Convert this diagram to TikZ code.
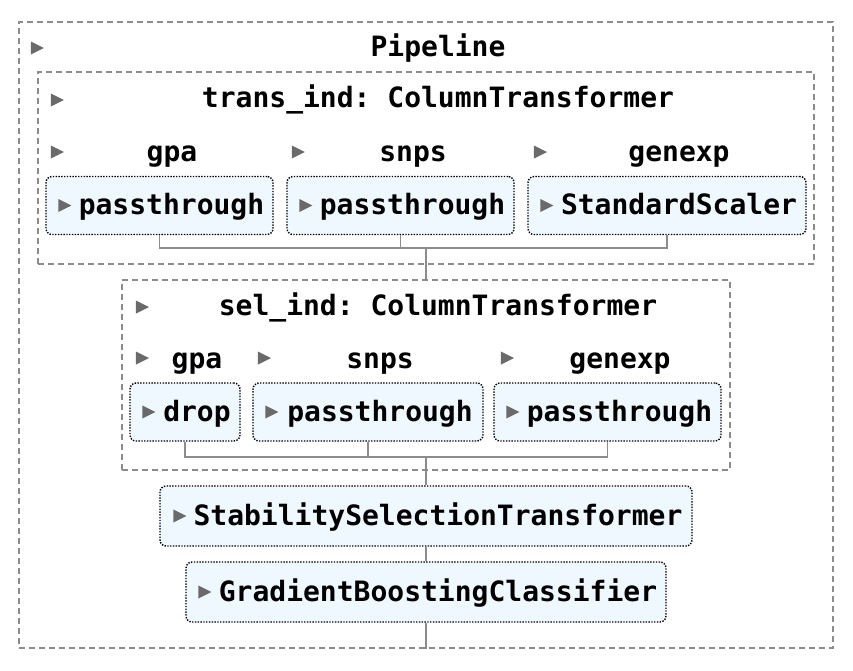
\documentclass[tikz,border=0pt]{standalone}
\usepackage{fontspec}
\setmonofont{DejaVu Sans Mono}
\usetikzlibrary{positioning,shapes.geometric}

\definecolor{boxfill}{HTML}{F0F8FF}
\definecolor{framegray}{HTML}{8C8C8C}
\definecolor{trigray}{HTML}{6A6A6A}

\tikzset{
  frame/.style={draw=framegray, line width=1.6pt, dash pattern=on 6pt off 4pt, inner sep=0pt},
  estim/.style={draw=black, fill=boxfill, line width=1.4pt, dash pattern=on 1.4pt off 1.4pt,
                rounded corners=6pt, inner sep=0pt, minimum height=58pt,
                text height=24pt, text depth=6pt},
  lab/.style={inner sep=0pt, text height=20pt, text depth=6pt},
  tri/.style={isosceles triangle, isosceles triangle stretches, shape border rotate=0,
              fill=trigray, inner sep=0pt, minimum width=13pt, minimum height=13pt},
  link/.style={draw=framegray, line width=1.6pt}
}

\begin{document}
\begin{tikzpicture}[x=1pt,y=-1pt,
                    font=\ttfamily\bfseries\fontsize{28}{34}\selectfont]
\useasboundingbox (0,0) rectangle (853,670);

\begin{scope}[every node/.style={frame}]
    \node (pipe) at (426,335) [minimum width=814pt, minimum height=626pt] {};
    \node (trans) at (426,168) [minimum width=776pt, minimum height=192pt] {};
    \node (sel) at (426,375) [minimum width=608pt, minimum height=190pt] {};
\end{scope}

\begin{scope}[every node/.style={lab}]
    \node (pipetitle) at (438,49.5) {Pipeline};
    \node (transtitle) at (438,100.5) {trans\_ind: ColumnTransformer};
    \node (tgpalab) at (172,154.7) {gpa};
    \node (tsnpslab) at (413,154.7) {snps};
    \node (tgenexplab) at (679,154.7) {genexp};
    \node (seltitle) at (438,308) {sel\_ind: ColumnTransformer};
    \node (sgpalab) at (197,361) {gpa};
    \node (ssnpslab) at (380,361) {snps};
    \node (sgenexplab) at (620,361) {genexp};
\end{scope}

\begin{scope}[every node/.style={tri}]
    \node (tripipe) at (35,48) {};
    \node (tritrans) at (55,100) {};
    \node (trigpa) at (55,152) {};
    \node (trisnps) at (296,152) {};
    \node (trigenexp) at (538,152) {};
    \node (trisel) at (140,307) {};
    \node (trisgpa) at (140,358) {};
    \node (trissnps) at (262,358) {};
    \node (trisgenexp) at (505,358) {};
\end{scope}

\begin{scope}[every node/.style={estim}]
    \node (tgpa) at (159.5,205.5) [minimum width=227pt] {\hspace*{24pt}passthrough};
    \node (tsnps) at (400.5,205.5) [minimum width=227pt] {\hspace*{24pt}passthrough};
    \node (tgenexp) at (667,205.5) [minimum width=278pt] {\hspace*{24pt}StandardScaler};
    \node (sdrop) at (185,412) [minimum width=110pt] {\hspace*{24pt}drop};
    \node (ssnps) at (368,412) [minimum width=230pt] {\hspace*{24pt}passthrough};
    \node (sgenexp) at (607.5,412) [minimum width=227pt] {\hspace*{24pt}passthrough};
    \node (stab) at (426,516) [minimum width=532pt, minimum height=60pt] {\hspace*{24pt}StabilitySelectionTransformer};
    \node (gbc) at (426,592) [minimum width=480pt, minimum height=60pt] {\hspace*{24pt}GradientBoostingClassifier};
\end{scope}

\begin{scope}[every node/.style={tri}]
    \node (tgpatri) at ([xshift=17pt]tgpa.west) {};
    \node (tsnpstri) at ([xshift=17pt]tsnps.west) {};
    \node (tgenexptri) at ([xshift=17pt]tgenexp.west) {};
    \node (sdroptri) at ([xshift=17pt]sdrop.west) {};
    \node (ssnpstri) at ([xshift=17pt]ssnps.west) {};
    \node (sgenexptri) at ([xshift=17pt]sgenexp.west) {};
    \node (stabtri) at ([xshift=18pt]stab.west) {};
    \node (gbctri) at ([xshift=17pt]gbc.west) {};
\end{scope}

\coordinate (tjoin) at (426,248);
\coordinate (sjoin) at (426,457);

\begin{scope}[every path/.style={link}]
    \draw (tgpa.south) |- (tjoin) -| (tgenexp.south);
    \draw (tsnps.south) -- (tsnps.south |- tjoin);
    \draw (tjoin) -- (sel.north);
    \draw (sdrop.south) |- (sjoin) -| (sgenexp.south);
    \draw (ssnps.south) -- (ssnps.south |- sjoin);
    \path [-] (sjoin) edge (stab.north);
    \path [-] (stab.south) edge (gbc.north);
    \path [-] (gbc.south) edge (pipe.south);
\end{scope}
\end{tikzpicture}
\end{document}
